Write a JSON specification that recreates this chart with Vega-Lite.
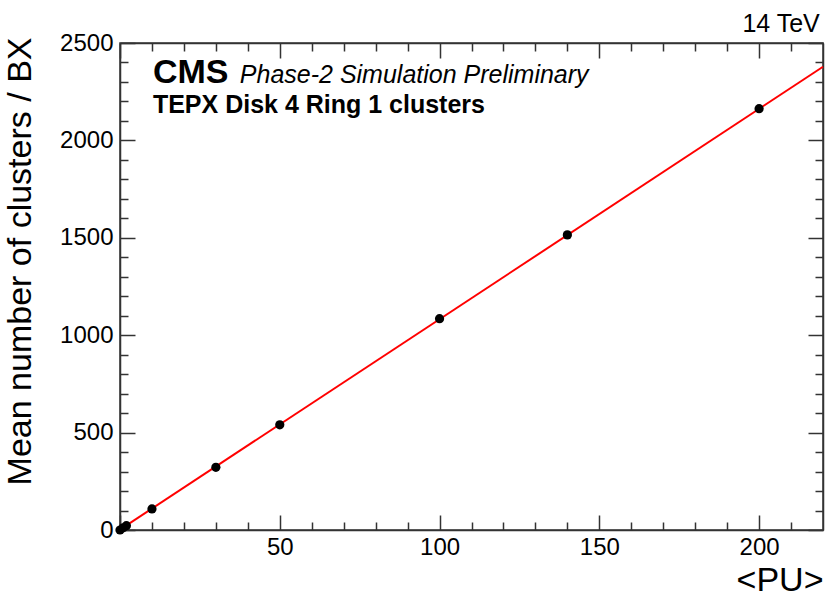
{
  "$schema": "https://vega.github.io/schema/vega-lite/v6.json",
  "autosize": {"type": "none"},
  "width": 703,
  "height": 487,
  "padding": {"left": 120, "top": 43, "right": 3, "bottom": 67},
  "background": "white",
  "config": {
    "font": "Liberation Sans",
    "view": {"stroke": "#333", "strokeWidth": 1.5},
    "axis": {"domainColor": "#333", "tickColor": "#333", "labelColor": "black", "titleColor": "black", "labelFont": "Liberation Sans", "titleFont": "Liberation Sans", "labelFontSize": 24, "grid": false, "labelFontWeight": "normal", "titleFontWeight": "normal", "domainWidth": 1.5, "tickWidth": 1.5}
  },
  "datasets": {
    "points": [
      {"pu": 0, "clusters": 0},
      {"pu": 1, "clusters": 11},
      {"pu": 2, "clusters": 22},
      {"pu": 10, "clusters": 108},
      {"pu": 30, "clusters": 322},
      {"pu": 50, "clusters": 540},
      {"pu": 100, "clusters": 1085},
      {"pu": 140, "clusters": 1515},
      {"pu": 200, "clusters": 2163}
    ],
    "fit": [
      {"pu": 0, "clusters": 2},
      {"pu": 220, "clusters": 2378}
    ],
    "cms": [{"pu": 10.3, "clusters": 2295, "label": "CMS"}],
    "prelim": [{"pu": 37.5, "clusters": 2295, "label": "Phase-2 Simulation Preliminary"}],
    "tepx": [{"pu": 10.3, "clusters": 2140, "label": "TEPX Disk 4 Ring 1 clusters"}],
    "energy": [{"pu": 219, "clusters": 2556, "label": "14 TeV"}]
  },
  "resolve": {"axis": {"x": "independent", "y": "independent"}},
  "layer": [
    {
      "data": {"name": "fit"},
      "mark": {"type": "line", "color": "#ff0000", "strokeWidth": 2},
      "encoding": {
        "x": {"field": "pu", "type": "quantitative", "scale": {"domain": [0, 220], "nice": false, "zero": false},
              "axis": {"orient": "bottom", "values": [0, 50, 100, 150, 200], "labelExpr": "datum.value == 0 ? '' : datum.label", "tickSize": -15, "labelPadding": 20, "title": "<PU>", "titleAnchor": "end", "titleFontSize": 34, "titlePadding": 4, "format": "d"}},
        "y": {"field": "clusters", "type": "quantitative", "scale": {"domain": [0, 2500], "nice": false, "zero": false},
              "axis": {"orient": "left", "values": [0, 500, 1000, 1500, 2000, 2500], "tickSize": -15, "labelPadding": 22, "title": "Mean number of clusters / BX", "titleAnchor": "end", "titleAlign": "right", "titleY": -6, "titleFontSize": 34, "titlePadding": 22, "format": "d"}}
      }
    },
    {
      "data": {"name": "points"},
      "mark": {"type": "point", "filled": true, "color": "black", "size": 85, "opacity": 1},
      "encoding": {
        "x": {"field": "pu", "type": "quantitative", "scale": {"domain": [0, 220], "nice": false, "zero": false},
              "axis": {"orient": "bottom", "values": [10, 20, 30, 40, 60, 70, 80, 90, 110, 120, 130, 140, 160, 170, 180, 190, 210], "tickSize": -8, "labels": false, "domain": false, "title": null}},
        "y": {"field": "clusters", "type": "quantitative", "scale": {"domain": [0, 2500], "nice": false, "zero": false},
              "axis": {"orient": "left", "values": [100, 200, 300, 400, 600, 700, 800, 900, 1100, 1200, 1300, 1400, 1600, 1700, 1800, 1900, 2100, 2200, 2300, 2400], "tickSize": -8, "labels": false, "domain": false, "title": null}}
      }
    },
    {
      "data": {"name": "cms"},
      "mark": {"type": "text", "align": "left", "baseline": "alphabetic", "fontSize": 34, "fontWeight": "bold", "font": "Liberation Sans", "color": "black"},
      "encoding": {
        "x": {"field": "pu", "type": "quantitative", "scale": {"domain": [0, 220], "nice": false, "zero": false},
              "axis": {"orient": "top", "values": [0, 50, 100, 150, 200], "tickSize": -15, "labels": false, "title": null}},
        "y": {"field": "clusters", "type": "quantitative", "scale": {"domain": [0, 2500], "nice": false, "zero": false},
              "axis": {"orient": "right", "values": [0, 500, 1000, 1500, 2000, 2500], "tickSize": -15, "labels": false, "title": null}},
        "text": {"field": "label"}
      }
    },
    {
      "data": {"name": "prelim"},
      "mark": {"type": "text", "align": "left", "baseline": "alphabetic", "fontSize": 25, "fontStyle": "italic", "font": "Liberation Sans", "color": "black"},
      "encoding": {
        "x": {"field": "pu", "type": "quantitative", "scale": {"domain": [0, 220], "nice": false, "zero": false},
              "axis": {"orient": "top", "values": [10, 20, 30, 40, 60, 70, 80, 90, 110, 120, 130, 140, 160, 170, 180, 190, 210], "tickSize": -8, "labels": false, "domain": false, "title": null}},
        "y": {"field": "clusters", "type": "quantitative", "scale": {"domain": [0, 2500], "nice": false, "zero": false},
              "axis": {"orient": "right", "values": [100, 200, 300, 400, 600, 700, 800, 900, 1100, 1200, 1300, 1400, 1600, 1700, 1800, 1900, 2100, 2200, 2300, 2400], "tickSize": -8, "labels": false, "domain": false, "title": null}},
        "text": {"field": "label"}
      }
    },
    {
      "data": {"name": "tepx"},
      "mark": {"type": "text", "align": "left", "baseline": "alphabetic", "fontSize": 25, "fontWeight": "bold", "font": "Liberation Sans", "color": "black"},
      "encoding": {
        "x": {"field": "pu", "type": "quantitative", "scale": {"domain": [0, 220], "nice": false, "zero": false}, "axis": null},
        "y": {"field": "clusters", "type": "quantitative", "scale": {"domain": [0, 2500], "nice": false, "zero": false}, "axis": null},
        "text": {"field": "label"}
      }
    },
    {
      "data": {"name": "energy"},
      "mark": {"type": "text", "align": "right", "baseline": "alphabetic", "fontSize": 25, "font": "Liberation Sans", "color": "black"},
      "encoding": {
        "x": {"field": "pu", "type": "quantitative", "scale": {"domain": [0, 220], "nice": false, "zero": false}, "axis": null},
        "y": {"field": "clusters", "type": "quantitative", "scale": {"domain": [0, 2500], "nice": false, "zero": false}, "axis": null},
        "text": {"field": "label"}
      }
    }
  ]
}
